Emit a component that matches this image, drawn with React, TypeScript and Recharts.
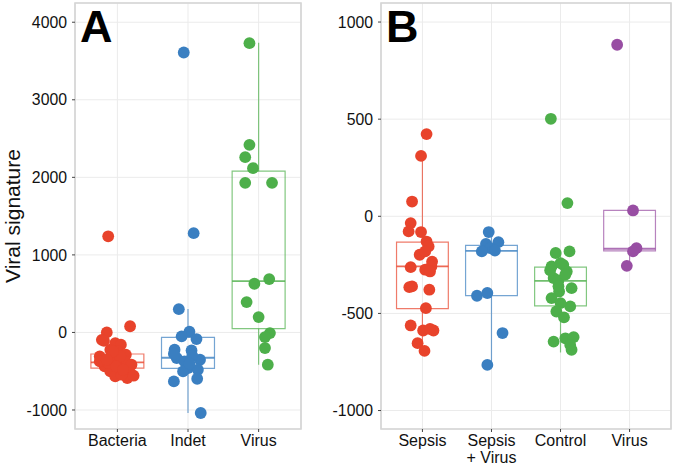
import React from 'react';
import {
  ComposedChart,
  Scatter,
  XAxis,
  YAxis,
  CartesianGrid,
  ReferenceArea,
  ReferenceLine,
} from 'recharts';

// ---------- Panel A data ----------
const panelACategories = ['Bacteria', 'Indet', 'Virus'];
const panelAColors = ['#E8432B', '#3A7FC1', '#4DAF4A'];
const panelATicks = [-1000, 0, 1000, 2000, 3000, 4000];

const bacteriaValues = [1240, 80, 0, -95, -107, -137, -158, -223, -309, -245, -287, -365, -374, -438, -459, -416, -502, -523, -567, -588, -558, -545, -374, -395, -309, -438, -481, -245, -352];
const bacteriaJitter = [-0.13, 0.18, -0.15, -0.22, -0.19, -0.03, 0.05, -0.1, -0.25, 0.01, 0.12, -0.06, 0.11, -0.18, 0.01, 0.2, -0.1, 0.18, -0.03, 0.14, 0.23, 0.06, -0.25, -0.13, 0.04, -0.02, 0.08, -0.06, -0.15];

const indetValues = [3610, 1280, 300, 10, -50, -85, -223, -232, -330, -374, -352, -459, -481, -502, -597, -631, -1039, -275, -300, -400];
const indetJitter = [-0.06, 0.08, -0.13, 0.02, -0.09, 0.12, -0.19, 0.05, -0.16, -0.05, 0.17, 0.0, 0.14, -0.07, 0.13, -0.2, 0.18, -0.2, 0.06, 0.02];

const virusAValues = [3730, 2419, 2260, 2118, 1929, 1929, 688, 628, 391, 198, -8, -60, -201, -416];
const virusAJitter = [-0.13, -0.13, -0.19, -0.08, -0.19, 0.19, 0.15, -0.06, -0.17, 0.0, 0.16, 0.09, 0.09, 0.13];

const panelAWhiskerLow = [-588, -1039, -416];
const panelAQ1 = [-459, -464, 48];
const panelAMedian = [-387, -326, 662];
const panelAQ3 = [-278, -64, 2080];
const panelAWhiskerHigh = [-95, 301, 3737];

// ---------- Panel B data ----------
const panelBCategories = ['Sepsis', 'Sepsis\n+ Virus', 'Control', 'Virus'];
const panelBColors = ['#E8432B', '#3A7FC1', '#4DAF4A', '#984EA3'];
const panelBTicks = [-1000, -500, 0, 500, 1000];

const sepsisValues = [423, 311, 76, -35, -78, -81, -130, -155, -198, -181, -233, -262, -275, -258, -361, -365, -378, -473, -562, -588, -588, -580, -653, -693, -284];
const sepsisJitter = [0.06, -0.02, -0.15, -0.17, -0.2, -0.02, 0.06, 0.09, -0.04, 0.04, 0.14, -0.17, 0.04, 0.13, -0.15, -0.19, 0.1, 0.05, -0.17, 0.01, 0.16, 0.11, -0.07, 0.03, 0.11];

const sepsisVirusValues = [-81, -133, -142, -164, -176, -181, -409, -395, -601, -765];
const sepsisVirusJitter = [-0.04, 0.1, -0.08, -0.02, 0.05, -0.14, -0.21, -0.06, 0.16, -0.06];

const controlValues = [502, 68, -189, -181, -258, -250, -284, -318, -330, -370, -387, -421, -464, -447, -490, -645, -628, -622, -687, -662, -241, -278, -300, -360, -520];
const controlJitter = [-0.14, 0.1, -0.07, 0.13, -0.13, 0.04, 0.09, -0.1, -0.03, 0.16, -0.02, -0.13, 0.14, 0.0, -0.06, -0.1, 0.07, 0.19, 0.16, 0.14, 0.0, -0.15, 0.07, -0.03, 0.05];

const virusBValues = [883, 30, -164, -181, -255];
const virusBJitter = [-0.18, 0.05, 0.1, 0.05, -0.04];

const panelBWhiskerLow = [-693, -765, -701, -255];
const panelBQ1 = [-475, -408, -461, -178];
const panelBMedian = [-258, -178, -332, -167];
const panelBQ3 = [-133, -150, -262, 30];
const panelBWhiskerHigh = [311, -81, -181, 30];

const FONT = "'Liberation Sans', Arial, Helvetica, sans-serif";
const TEXT_COLOR = '#111';

type Group = { values: number[]; jitter: number[] };

const makeTick = (labels: string[]) => (props: any) => {
  const { x, y, payload } = props;
  const label = labels[Math.round(payload.value) - 1] || '';
  const lines = label.split('\n');
  return (
    <text x={x} y={y} textAnchor="middle" fontSize={16} fill={TEXT_COLOR} fontFamily={FONT}>
      {lines.map((l, i) => (
        <tspan key={i} x={x} dy={i === 0 ? '0.71em' : 17}>
          {l}
        </tspan>
      ))}
    </text>
  );
};

function Panel(props: {
  width: number;
  height: number;
  margin: { top: number; right: number; bottom: number; left: number };
  yAxisWidth: number;
  categories: string[];
  colors: string[];
  groups: Group[];
  low: number[];
  q1: number[];
  med: number[];
  q3: number[];
  high: number[];
  domain: [number, number];
  ticks: number[];
}) {
  const { categories, colors, groups, low, q1, med, q3, high, domain, ticks } = props;
  const n = categories.length;
  const xTicks = categories.map((_, i) => i + 1);
  const half = 0.375;
  return (
    <ComposedChart width={props.width} height={props.height} margin={props.margin}>
      <CartesianGrid stroke="#ebebeb" strokeWidth={1} />
      <XAxis
        type="number"
        dataKey="x"
        domain={[0.4, n + 0.6]}
        ticks={xTicks}
        allowDataOverflow
        axisLine={false}
        tickLine={{ stroke: '#444' }}
        tickSize={3}
        tickMargin={3}
        height={40}
        interval={0}
        tick={makeTick(categories)}
      />
      <YAxis
        type="number"
        dataKey="y"
        domain={domain}
        ticks={ticks}
        allowDataOverflow
        axisLine={false}
        tickLine={{ stroke: '#444' }}
        tickSize={3}
        tickMargin={5}
        width={props.yAxisWidth}
        interval={0}
        tick={{ fontSize: 15.8, fill: TEXT_COLOR, fontFamily: FONT }}
      />
      {categories.map((_, i) => (
        <ReferenceLine
          key={'wu' + i}
          segment={[
            { x: i + 1, y: q3[i] },
            { x: i + 1, y: high[i] },
          ]}
          stroke={colors[i]}
          strokeOpacity={0.7}
          strokeWidth={1.2}
        />
      ))}
      {categories.map((_, i) => (
        <ReferenceLine
          key={'wl' + i}
          segment={[
            { x: i + 1, y: q1[i] },
            { x: i + 1, y: low[i] },
          ]}
          stroke={colors[i]}
          strokeOpacity={0.7}
          strokeWidth={1.2}
        />
      ))}
      {categories.map((_, i) => (
        <ReferenceArea
          key={'box' + i}
          x1={i + 1 - half}
          x2={i + 1 + half}
          y1={q1[i]}
          y2={q3[i]}
          fill="none"
          fillOpacity={0}
          stroke={colors[i]}
          strokeOpacity={0.7}
          strokeWidth={1.2}
        />
      ))}
      {categories.map((_, i) => (
        <ReferenceLine
          key={'med' + i}
          segment={[
            { x: i + 1 - half, y: med[i] },
            { x: i + 1 + half, y: med[i] },
          ]}
          stroke={colors[i]}
          strokeOpacity={0.8}
          strokeWidth={1.8}
        />
      ))}
      {groups.map((g, i) => (
        <Scatter
          key={'s' + i}
          data={g.values.map((v, k) => ({ x: i + 1 + g.jitter[k], y: v }))}
          fill={colors[i]}
          isAnimationActive={false}
          shape={(p: any) => <circle cx={p.cx} cy={p.cy} r={5.9} fill={colors[i]} />}
        />
      ))}
      <ReferenceArea
        x1={0.4}
        x2={n + 0.6}
        y1={domain[0]}
        y2={domain[1]}
        fill="none"
        fillOpacity={0}
        stroke="#d4d4d4"
        strokeWidth={1.6}
      />
    </ComposedChart>
  );
}

export default function App() {
  const groupsA: Group[] = [
    { values: bacteriaValues, jitter: bacteriaJitter },
    { values: indetValues, jitter: indetJitter },
    { values: virusAValues, jitter: virusAJitter },
  ];
  const groupsB: Group[] = [
    { values: sepsisValues, jitter: sepsisJitter },
    { values: sepsisVirusValues, jitter: sepsisVirusJitter },
    { values: controlValues, jitter: controlJitter },
    { values: virusBValues, jitter: virusBJitter },
  ];
  return (
    <div style={{ position: 'absolute', left: 0, top: 0, width: 675, height: 469, background: '#fff', fontFamily: FONT }}>
      <div style={{ position: 'absolute', left: 0, top: 0 }}>
        <Panel
          width={330}
          height={469}
          margin={{ top: 3, right: 29, bottom: 0, left: 0 }}
          yAxisWidth={75}
          categories={panelACategories}
          colors={panelAColors}
          groups={groupsA}
          low={panelAWhiskerLow}
          q1={panelAQ1}
          med={panelAMedian}
          q3={panelAQ3}
          high={panelAWhiskerHigh}
          domain={[-1245, 4248]}
          ticks={panelATicks}
        />
      </div>
      <div style={{ position: 'absolute', left: 330, top: 0 }}>
        <Panel
          width={345}
          height={469}
          margin={{ top: 3, right: 4, bottom: 0, left: 0 }}
          yAxisWidth={51}
          categories={panelBCategories}
          colors={panelBColors}
          groups={groupsB}
          low={panelBWhiskerLow}
          q1={panelBQ1}
          med={panelBMedian}
          q3={panelBQ3}
          high={panelBWhiskerHigh}
          domain={[-1095, 1098]}
          ticks={panelBTicks}
        />
      </div>
      <svg
        width={675}
        height={469}
        style={{ position: 'absolute', left: 0, top: 0, pointerEvents: 'none' }}
      >
        <text
          x={20}
          y={216}
          transform="rotate(-90 20 216)"
          textAnchor="middle"
          fontSize={21}
          fill={TEXT_COLOR}
          fontFamily={FONT}
        >
          Viral signature
        </text>
        <text x={80} y={42} fontSize={45} fontWeight="bold" fill="#000" fontFamily={FONT}>
          A
        </text>
        <text x={386} y={42} fontSize={45} fontWeight="bold" fill="#000" fontFamily={FONT}>
          B
        </text>
      </svg>
    </div>
  );
}
